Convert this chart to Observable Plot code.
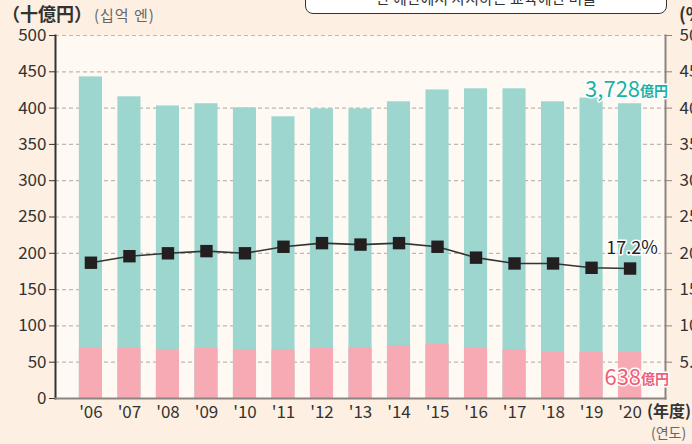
<!DOCTYPE html>
<html><head><meta charset="utf-8">
<script src="https://cdn.jsdelivr.net/npm/d3@7"></script>
<script src="https://cdn.jsdelivr.net/npm/@observablehq/plot@0.6"></script>
<style>
html,body{margin:0;padding:0;background:#fdf0e2;}
#wrap{position:relative;width:692px;height:444px;overflow:hidden;font-family:'Noto Sans CJK JP','Noto Sans',sans-serif;}
#wrap svg{position:absolute;left:0;top:0;}
.lbl{position:absolute;white-space:nowrap;color:#333;line-height:1.2;}
#box{position:absolute;left:305px;top:-22px;width:360px;height:34px;border:1.5px solid #333;border-radius:8px;background:#fff;}
#box span{position:absolute;left:0;right:0;bottom:8px;text-align:center;font-size:15px;line-height:15px;color:#333;}
</style></head>
<body>
<div id="wrap">
  <div id="box"><span>한 예산에서 차지하는 교육예산 비율</span></div>
  <div class="lbl" style="left:2px;top:3px;font-size:18px;font-weight:bold;">（十億円）<span style="font-size:15px;font-weight:normal;color:#666;letter-spacing:1px;margin-left:2px;">(십억 엔)</span></div>
  <div class="lbl" style="left:679px;top:3px;font-size:18px;font-weight:bold;">(%)</div>
  <div class="lbl" style="left:647px;top:401px;font-size:16px;font-weight:bold;">(年度)</div>
  <div class="lbl" style="left:651px;top:424px;font-size:14px;color:#666;">(연도)</div>
</div>
<script>
const years = ["'06","'07","'08","'09","'10","'11","'12","'13","'14","'15","'16","'17","'18","'19","'20"];
const total = [443,415.6,403,406,400.4,388,399,399,408.7,425,426.6,426.6,408.7,413.8,406];
const pink  = [69.8,68.9,67,68.9,67,67,69.8,69.8,72.6,74.4,69.8,67,64.3,63.4,63.4];
const ratio = [18.7,19.6,20.0,20.3,20.0,20.9,21.4,21.2,21.4,20.9,19.4,18.6,18.6,18.0,17.9];
const leftTicks = d3.range(0, 501, 50);
const rightTicks = d3.range(50, 501, 50);
const totalLabel = ["3,728", "億円"];
const pinkLabel = ["638", "億円"];
const ratioLabel = "17.2%";

const data = years.map((y, i) => ({year: y, total: total[i], pink: pink[i], ratio: ratio[i] * 10}));
const last = data[data.length - 1];

const teal = "#9dd6cf", rose = "#f7aab4";
const halo = {stroke: "white", strokeWidth: 3, paintOrder: "stroke"};

const chart = Plot.plot({
  width: 692, height: 444,
  marginTop: 35, marginBottom: 46, marginLeft: 55, marginRight: 27,
  style: {fontFamily: "'Noto Sans CJK JP','Noto Sans',sans-serif", fontSize: "17px", color: "#333", background: "transparent", overflow: "visible"},
  x: {domain: years, paddingInner: 0.4, paddingOuter: 0.62, round: false, label: null},
  y: {domain: [0, 500], label: null},
  marks: [
    Plot.frame({fill: "#fef9f3", stroke: null}),
    Plot.gridY(rightTicks, {stroke: "#bdb8b3", strokeOpacity: 1, strokeDasharray: "4 3", strokeWidth: 1.2}),
    Plot.barY(data, {x: "year", y1: 0, y2: "total", fill: teal}),
    Plot.barY(data, {x: "year", y1: 0, y2: "pink", fill: rose}),
    Plot.line(data, {x: "year", y: "ratio", stroke: "#333", strokeWidth: 1.6}),
    Plot.dot(data, {x: "year", y: "ratio", symbol: "square", r: 7, fill: "#231f20", stroke: "none"}),
    Plot.axisY(leftTicks, {anchor: "left", tickSize: 6, tickPadding: 3, tickFormat: d => String(d), stroke: "#333", fontSize: 17, label: null}),
    Plot.axisY(rightTicks, {anchor: "right", tickSize: 6, tickPadding: 8, tickFormat: d => (d / 10).toFixed(1), stroke: "#8c8480", fontSize: 17, label: null}),
    Plot.axisX({tickSize: 0, tickPadding: 7, fontSize: 17, label: null}),
    Plot.frame({anchor: "left", stroke: "#333", strokeWidth: 2}),
    Plot.frame({anchor: "right", stroke: "#8c8480", strokeWidth: 2}),
    Plot.frame({anchor: "bottom", stroke: "#8c8480", strokeWidth: 2}),
    Plot.text([last], {x: "year", y: "total", text: () => totalLabel[0], textAnchor: "end", dx: 10, dy: -14, fill: "#19b2a6", fontSize: 22, ...halo}),
    Plot.text([last], {x: "year", y: "total", text: () => totalLabel[1], textAnchor: "start", dx: 10, dy: -12, fill: "#19b2a6", fontSize: 14, fontWeight: "bold", ...halo}),
    Plot.text([last], {x: "year", y: "pink", text: () => pinkLabel[0], textAnchor: "end", dx: 11, dy: 25, fill: "#ee5f78", fontSize: 22, ...halo}),
    Plot.text([last], {x: "year", y: "pink", text: () => pinkLabel[1], textAnchor: "start", dx: 11, dy: 27, fill: "#ee5f78", fontSize: 14, fontWeight: "bold", ...halo}),
    Plot.text([last], {x: "year", y: "ratio", text: () => ratioLabel, textAnchor: "middle", dx: 2, dy: -20, fill: "#222", fontSize: 18, ...halo})
  ]
});
document.getElementById("wrap").prepend(chart);
</script>
</body></html>
